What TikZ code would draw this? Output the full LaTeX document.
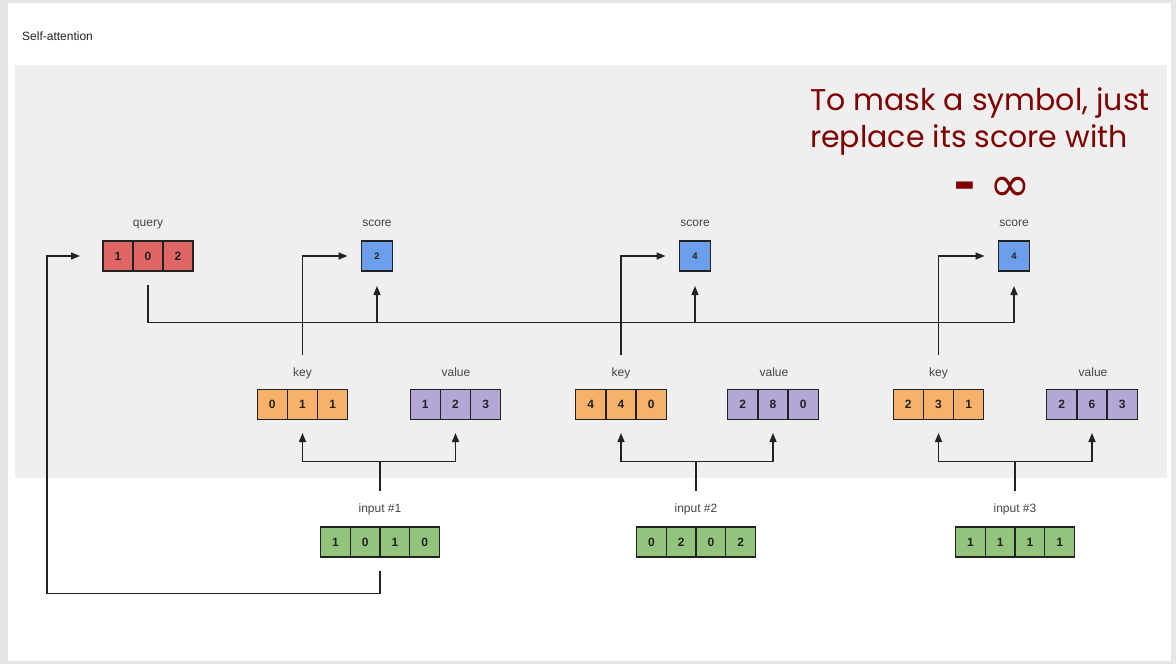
\documentclass[tikz,border=0pt]{standalone}
\usepackage{fontspec}
\usepackage{graphicx}
\setmainfont{Liberation Sans}
\newfontfamily\maskfont{Poppins}
\newfontfamily\symfont{DejaVu Sans}
\usetikzlibrary{arrows.meta}

\definecolor{qred}{HTML}{E06666}
\definecolor{sblue}{HTML}{6D9EEB}
\definecolor{korange}{HTML}{F6B26B}
\definecolor{vpurple}{HTML}{B4A7D6}
\definecolor{igreen}{HTML}{93C47D}
\definecolor{panel}{HTML}{EFEFEF}
\definecolor{marble}{HTML}{E6E6E6}
\definecolor{maskred}{HTML}{7F0000}
\definecolor{ink}{HTML}{222222}
\definecolor{labelgray}{HTML}{444444}

\tikzset{
  vecframe/.style={draw=ink, line width=1.3pt, minimum height=30pt,
    inner sep=0pt, outer sep=0pt},
  vcell/.style={draw=ink, line width=1.3pt, minimum height=30pt,
    inner sep=0pt, outer sep=0pt, text=ink,
    font=\bfseries\fontsize{12}{12}\selectfont},
  scorecell/.style={vcell, fill=sblue, minimum width=31pt,
    font=\bfseries\fontsize{9.5}{9.5}\selectfont},
  lbl/.style={anchor=base, inner sep=0pt, text=labelgray,
    font=\fontsize{12}{12}\selectfont},
  wire/.style={draw=ink, line width=1.4pt},
  arrow/.style={wire, -{Triangle[length=9pt,width=7pt]}},
}

% a row of equal cells: name, centre, number of cells, cell width, fill, entries
\newcommand\vecbox[6]{%
  \node[vecframe, fill=#5, minimum width={#3*#4pt}] (#1) at #2 {};
  \foreach \v [count=\i] in {#6} {
    \node[vcell, minimum width=#4pt, anchor=west] (#1-\i)
      at ([xshift={(\i-1)*#4}]#1.west) {\v};
  }%
}

\begin{document}
\begin{tikzpicture}[x=1pt, y=-1pt]
\useasboundingbox (0,0) rectangle (1176,664);

% slide, panel and title
\fill[marble] (0,0) rectangle (1176,664);
\fill[white] (8,3) rectangle (1171,661);
\fill[panel] (15,65) rectangle (1167,478);
\node[anchor=base west, inner sep=0pt, text=ink,
  font=\fontsize{12}{12}\selectfont] (title) at (22,40) {Self-attention};

% note on masking (base anchor sits on the last line)
\node[anchor=base west, inner sep=0pt, align=left, text=maskred,
  font=\maskfont\fontsize{30}{37}\selectfont] (note) at (810,147)
  {To mask a symbol, just\\replace its score with};
\node[inner sep=0pt, text=maskred, font=\maskfont\bfseries\fontsize{30}{30}\selectfont]
  (minus) at (965,193) {\scalebox{1}[1.7]{–}};
\node[inner sep=0pt, text=maskred, font=\symfont\fontsize{50}{50}\selectfont]
  (infty) at (1010,189) {∞};

% query and scores
\node[lbl] (querylbl) at (148,226.5) {query};
\vecbox{query}{(148,256)}{3}{30}{qred}{1,0,2}

\node[lbl] (scorelbl1) at (377,226.5) {score};
\node[scorecell] (score1) at (377,256) {2};
\node[lbl] (scorelbl2) at (695,226.5) {score};
\node[scorecell] (score2) at (695,256) {4};
\node[lbl] (scorelbl3) at (1014,226.5) {score};
\node[scorecell] (score3) at (1014,256) {4};

% keys and values
\node[lbl] (keylbl1) at (302.5,376) {key};
\vecbox{key1}{(302.5,404.5)}{3}{30.2}{korange}{0,1,1}
\node[lbl] (vallbl1) at (456,376) {value};
\vecbox{value1}{(455.5,404.5)}{3}{30.2}{vpurple}{1,2,3}

\node[lbl] (keylbl2) at (621,376) {key};
\vecbox{key2}{(621,404.5)}{3}{30.2}{korange}{4,4,0}
\node[lbl] (vallbl2) at (774,376) {value};
\vecbox{value2}{(773,404.5)}{3}{30.2}{vpurple}{2,8,0}

\node[lbl] (keylbl3) at (938.5,376) {key};
\vecbox{key3}{(938.5,404.5)}{3}{30.2}{korange}{2,3,1}
\node[lbl] (vallbl3) at (1093,376) {value};
\vecbox{value3}{(1092,404.5)}{3}{30.2}{vpurple}{2,6,3}

% inputs
\node[lbl] (inlbl1) at (380,512.3) {input \#1};
\vecbox{input1}{(380,542)}{4}{29.75}{igreen}{1,0,1,0}
\node[lbl] (inlbl2) at (696,512.3) {input \#2};
\vecbox{input2}{(696,542)}{4}{29.75}{igreen}{0,2,0,2}
\node[lbl] (inlbl3) at (1015,512.3) {input \#3};
\vecbox{input3}{(1015,542)}{4}{29.75}{igreen}{1,1,1,1}

% bus levels
\coordinate (qbus) at (0,322.5);
\coordinate (kvbus) at (0,461.5);
\coordinate (loopcorner) at (47,593.3);

% query fanned out to every score
\draw[arrow] ([yshift=-14pt]query.south) |- (score3.south |- qbus)
  -- ([yshift=-15pt]score3.south);
\draw[arrow] (score1.south |- qbus) -- ([yshift=-15pt]score1.south);
\draw[arrow] (score2.south |- qbus) -- ([yshift=-15pt]score2.south);

% each key into its score
\draw[arrow] ([yshift=35pt]key1.north) |- ([xshift=-14pt]score1.west);
\draw[arrow] ([yshift=35pt]key2.north) |- ([xshift=-14pt]score2.west);
\draw[arrow] ([yshift=35pt]key3.north) |- ([xshift=-14pt]score3.west);

% each input into its key and value
\foreach \n in {1,2,3} {
  \draw[wire] ([yshift=36pt]input\n.north) -- (input\n.north |- kvbus);
  \draw[arrow] (input\n.north |- kvbus) -| ([yshift=-13.5pt]key\n.south);
  \draw[arrow] (input\n.north |- kvbus) -| ([yshift=-13.5pt]value\n.south);
}

% first input also gives the query
\draw[arrow] ([yshift=-13.5pt]input1.south) |- (loopcorner)
  |- ([xshift=-23pt]query.west);
\end{tikzpicture}
\end{document}
